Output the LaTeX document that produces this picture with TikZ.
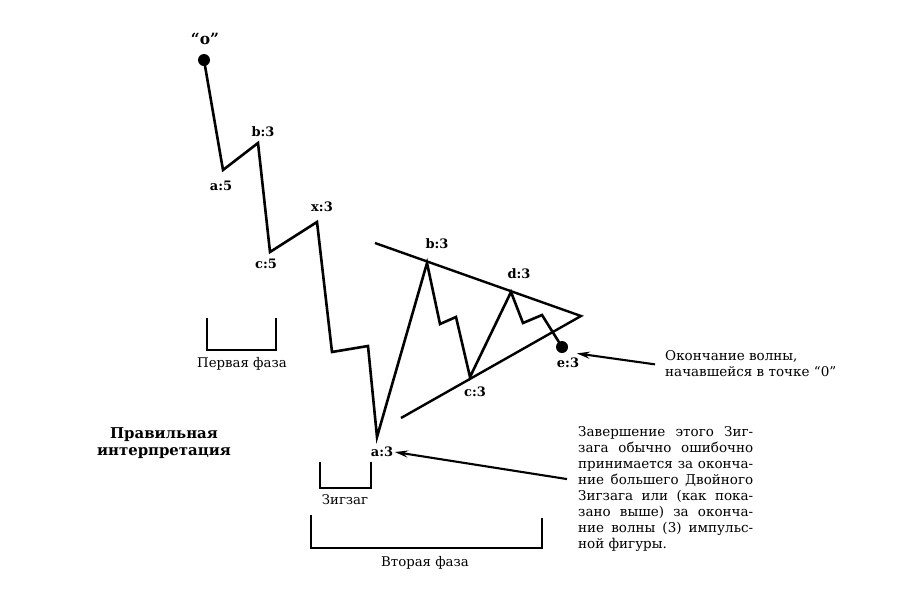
\documentclass[tikz,border=0pt]{standalone}
\usepackage{fontspec}
\setmainfont{DejaVu Serif}
\usetikzlibrary{arrows.meta}
\begin{document}
\begin{tikzpicture}[x=1pt,y=-1pt]
\tikzstyle{wave} = [line width=2.6pt, line join=miter]
\tikzstyle{trend} = [line width=2.4pt]
\tikzstyle{bracket} = [line width=2.2pt]
\tikzstyle{dot} = [shape=circle, fill=black, inner sep=0, minimum size=12pt]
\tikzstyle{lbl} = [inner sep=1.5pt, font=\fontsize{13}{13}\selectfont\bfseries]
\tikzstyle{caption} = [inner sep=0, font=\fontsize{13.3}{15}\selectfont]
\tikzstyle{note} = [inner sep=0, anchor=north west, align=left, font=\fontsize{13.5}{16.1}\selectfont]
\tikzstyle{pointer} = [-{Stealth[length=13pt,width=7pt]}, line width=2.1pt]

\useasboundingbox (0,0) rectangle (910,614);

% wave points
\node [dot] (o) at (204,60) {};
\coordinate (a1) at (223,170);
\coordinate (b1) at (258,143);
\coordinate (c1) at (270,252);
\coordinate (x1) at (317,222);
\coordinate (w1) at (332,352);
\coordinate (w2) at (368,346);
\coordinate (a3) at (377,437);
\coordinate (b3) at (427,263);
\coordinate (w3) at (440,324);
\coordinate (w4) at (456,317);
\coordinate (c3) at (470,377);
\coordinate (d3) at (511,292);
\coordinate (w5) at (523,323);
\coordinate (w6) at (542,315);
\node [dot] (e3) at (562,347) {};

\draw [wave] (o.center) -- (a1) -- (b1) -- (c1) -- (x1) -- (w1) -- (w2) -- (a3) -- (b3)
  -- (w3) -- (w4) -- (c3) -- (d3) -- (w5) -- (w6) -- (e3.center);

% triangle lines
\coordinate (apex) at (581,316);
\coordinate (upper) at (375,243);
\coordinate (lower) at (401,418);
\draw [trend] (upper) -- (apex) -- (lower);

% labels
\node [lbl, font=\fontsize{15.5}{15.5}\selectfont\bfseries] (olbl) at (205,39) {“o”};
\node [lbl] (a5lbl) at (221,186) {a:5};
\node [lbl] (b3lbl) at (263,132) {b:3};
\node [lbl] (c5lbl) at (266,264) {c:5};
\node [lbl] (x3lbl) at (322,207) {x:3};
\node [lbl] (a3lbl) at (382,452) {a:3};
\node [lbl] (bblbl) at (437,244) {b:3};
\node [lbl] (cclbl) at (475,392) {c:3};
\node [lbl] (ddlbl) at (519,274) {d:3};
\node [lbl] (eelbl) at (568,363) {e:3};

% phases
\draw [bracket] (207,318) -- (207,350) -- (276,350) -- (276,318);
\node [caption] (first) at (242,364) {Первая фаза};
\draw [bracket] (320,462) -- (320,488) -- (371,488) -- (371,462);
\node [caption] (zig) at (345,500) {Зигзаг};
\draw [bracket] (311,515) -- (311,548) -- (542,548) -- (542,518);
\node [caption] (second) at (425,563) {Вторая фаза};

\node [inner sep=0, align=center, font=\fontsize{14.9}{17}\selectfont\bfseries] (title) at (164,443)
  {Правильная\\интерпретация};

% notes
\node [note] (endnote) at (665,350) {Окончание волны,\\начавшейся в точке “0”};
\node [note] (zignote) at (578,426) {%
  \makebox[175pt][s]{Завершение этого Зиг-}\\
  \makebox[175pt][s]{зага обычно ошибочно}\\
  \makebox[175pt][s]{принимается за оконча-}\\
  \makebox[175pt][s]{ние большего Двойного}\\
  \makebox[175pt][s]{Зигзага или (как пока-}\\
  \makebox[175pt][s]{зано выше) за оконча-}\\
  \makebox[175pt][s]{ние волны (3) импульс-}\\
  ной фигуры.};

\draw [pointer] ([xshift=-10pt,yshift=-1pt]endnote.west) -- ([xshift=-4pt,yshift=3pt]eelbl.north east);
\draw [pointer] ([xshift=-11pt,yshift=10pt]zignote.west) -- (a3lbl.east);
\end{tikzpicture}
\end{document}
